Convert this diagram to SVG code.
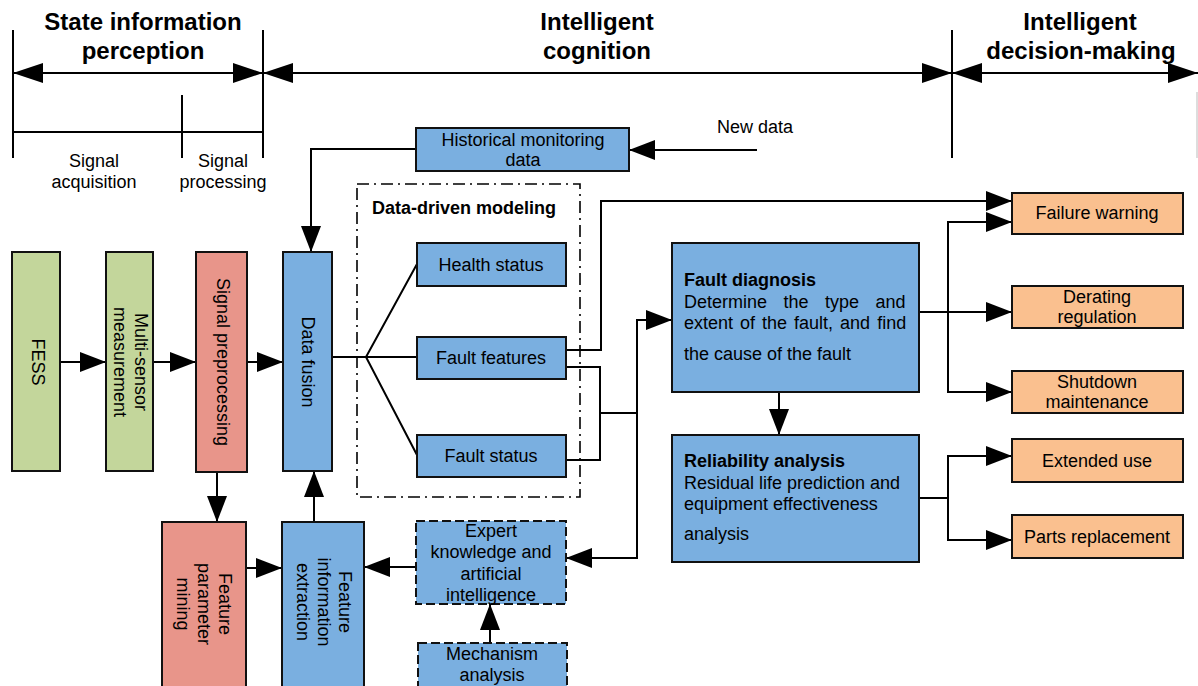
<svg xmlns="http://www.w3.org/2000/svg" width="1198" height="686" viewBox="0 0 1198 686">
<defs>
<marker id="ah" viewBox="0 0 26 20" refX="26" refY="10" markerWidth="26" markerHeight="20" markerUnits="userSpaceOnUse" orient="auto"><path d="M0,0 L26,10 L0,20 z" fill="#000"/></marker>
<marker id="big" viewBox="0 0 30 20" refX="30" refY="10" markerWidth="30" markerHeight="20" markerUnits="userSpaceOnUse" orient="auto-start-reverse"><path d="M0,0 L30,10 L0,20 z" fill="#000"/></marker>
<style>
text{font-family:"Liberation Sans",Arial,sans-serif;font-size:18px;fill:#000}
.t{font-weight:bold;font-size:24px;text-anchor:middle}
.b{font-weight:bold}
.c{text-anchor:middle}
.box{stroke:#111;stroke-width:2}
.g{fill:#c3d69b}
.r{fill:#e8958a}
.bl{fill:#7aafe0}
.o{fill:#fac08f}
.d{stroke-dasharray:9 4}
.ln{fill:none;stroke:#000;stroke-width:2}
.ar{fill:none;stroke:#000;stroke-width:2;marker-end:url(#ah)}
</style>
</defs>
<rect width="1198" height="686" fill="#fff"/>
<g id="timeline">
<line x1="13" y1="30" x2="13" y2="158" class="ln"/>
<line x1="263" y1="30" x2="263" y2="158" class="ln"/>
<line x1="952" y1="30" x2="952" y2="158" class="ln"/>
<line x1="182" y1="95" x2="182" y2="158" class="ln"/>
<line x1="13" y1="132" x2="263" y2="132" class="ln"/>
<line x1="1197" y1="92" x2="1197" y2="158" stroke="#bbb" stroke-width="1"/>
<line x1="13" y1="73" x2="263" y2="73" class="ln" marker-start="url(#big)" marker-end="url(#big)"/>
<line x1="263" y1="73" x2="952" y2="73" class="ln" marker-start="url(#big)" marker-end="url(#big)"/>
<line x1="952" y1="73" x2="1198" y2="73" class="ln" marker-start="url(#big)" marker-end="url(#big)"/>
<text class="t" x="143" y="30">State information</text>
<text class="t" x="143" y="59">perception</text>
<text class="t" x="597" y="30">Intelligent</text>
<text class="t" x="597" y="59">cognition</text>
<text class="t" x="1080" y="30">Intelligent</text>
<text class="t" x="1081" y="59">decision-making</text>
<text class="c" x="94" y="167">Signal</text>
<text class="c" x="94" y="188">acquisition</text>
<text class="c" x="223" y="167">Signal</text>
<text class="c" x="223" y="188">processing</text>
<text x="717" y="133">New data</text>
</g>
<g id="connectors">
<path class="ar" d="M60,362 H106"/>
<path class="ar" d="M153,362 H196"/>
<path class="ar" d="M247,362 H283"/>
<path class="ar" d="M416,149 H311 V252"/>
<path class="ar" d="M757,150 H629"/>
<path class="ar" d="M217,472 V522"/>
<path class="ar" d="M246,568 H282"/>
<path class="ar" d="M314,522 V471"/>
<path class="ar" d="M416,567 H364"/>
<path class="ar" d="M490,643 V604"/>
<path class="ln" d="M332,357 H366 M417,264 L366,357 L417,455 M366,357 H417"/>
<path class="ar" d="M566,350 H601 V201 H1012"/>
<path class="ln" d="M566,367 H600 V460 H566 M600,413 H637"/>
<path class="ar" d="M637,413 V320 H672"/>
<path class="ar" d="M637,413 V558 H566"/>
<path class="ar" d="M779,392 V435"/>
<path class="ar" d="M919,312 H1012"/>
<path class="ar" d="M948,312 V222 H1012"/>
<path class="ar" d="M948,312 V392 H1012"/>
<path class="ln" d="M919,498 H948"/>
<path class="ar" d="M948,498 V456 H1012"/>
<path class="ar" d="M948,498 V540 H1012"/>
</g>
<g id="fess"><rect class="box g" x="12" y="252" width="48" height="219"/><text class="c" transform="translate(32,362) rotate(90)">FESS</text></g>
<g id="multi"><rect class="box g" x="106" y="252" width="47" height="219"/><text class="c" transform="translate(135,362) rotate(90)">Multi-sensor</text><text class="c" transform="translate(114,362) rotate(90)">measurement</text></g>
<g id="sigpre"><rect class="box r" x="196" y="252" width="51" height="220"/><text class="c" transform="translate(217,362) rotate(90)">Signal preprocessing</text></g>
<g id="fusion"><rect class="box bl" x="283" y="252" width="49" height="219"/><text class="c" transform="translate(302,362) rotate(90)">Data fusion</text></g>
<g id="featparam"><rect class="box r" x="162" y="522" width="84" height="170"/><text class="c" transform="translate(219,604) rotate(90)">Feature</text><text class="c" transform="translate(198,604) rotate(90)">parameter</text><text class="c" transform="translate(177,604) rotate(90)">mining</text></g>
<g id="featinfo"><rect class="box bl" x="282" y="522" width="82" height="170"/><text class="c" transform="translate(339,602) rotate(90)">Feature</text><text class="c" transform="translate(318,602) rotate(90)">information</text><text class="c" transform="translate(297,602) rotate(90)">extraction</text></g>
<g id="expert"><rect class="box bl d" x="416" y="521" width="150" height="83"/><text class="c" x="491" y="537">Expert</text><text class="c" x="491" y="558">knowledge and</text><text class="c" x="491" y="580">artificial</text><text class="c" x="491" y="601">intelligence</text></g>
<g id="mechanism"><rect class="box bl d" x="418" y="643" width="149" height="50"/><text class="c" x="492" y="660">Mechanism</text><text class="c" x="492" y="681">analysis</text></g>
<g id="history"><rect class="box bl" x="416" y="128" width="213" height="43"/><text class="c" x="523" y="146">Historical monitoring</text><text class="c" x="523" y="166">data</text></g>
<g id="ddm"><rect x="357" y="184" width="223" height="313" fill="none" stroke="#000" stroke-width="1.6" stroke-dasharray="12 5 2 5"/><text class="b" x="372" y="214">Data-driven modeling</text></g>
<g id="health"><rect class="box bl" x="417" y="243" width="149" height="43"/><text class="c" x="491" y="271">Health status</text></g>
<g id="ffeat"><rect class="box bl" x="417" y="337" width="149" height="42"/><text class="c" x="491" y="364">Fault features</text></g>
<g id="fstatus"><rect class="box bl" x="417" y="435" width="149" height="42"/><text class="c" x="491" y="462">Fault status</text></g>
<g id="diag"><rect class="box bl" x="672" y="243" width="247" height="149"/><text class="b" x="684" y="286">Fault diagnosis</text><text x="684" y="308" word-spacing="11.5">Determine the type and</text><text x="684" y="329" word-spacing="2">extent of the fault, and find</text><text x="684" y="360">the cause of the fault</text></g>
<g id="reliab"><rect class="box bl" x="672" y="435" width="247" height="127"/><text class="b" x="684" y="467">Reliability analysis</text><text x="684" y="489">Residual life prediction and</text><text x="684" y="510">equipment effectiveness</text><text x="684" y="540">analysis</text></g>
<g id="warn"><rect class="box o" x="1012" y="193" width="171" height="41"/><text class="c" x="1097" y="219">Failure warning</text></g>
<g id="derate"><rect class="box o" x="1012" y="286" width="171" height="42"/><text class="c" x="1097" y="303">Derating</text><text class="c" x="1097" y="323">regulation</text></g>
<g id="shutdown"><rect class="box o" x="1012" y="371" width="171" height="42"/><text class="c" x="1097" y="388">Shutdown</text><text class="c" x="1097" y="408">maintenance</text></g>
<g id="extend"><rect class="box o" x="1012" y="439" width="171" height="43"/><text class="c" x="1097" y="467">Extended use</text></g>
<g id="parts"><rect class="box o" x="1012" y="515" width="171" height="43"/><text class="c" x="1097" y="543">Parts replacement</text></g>
</svg>
